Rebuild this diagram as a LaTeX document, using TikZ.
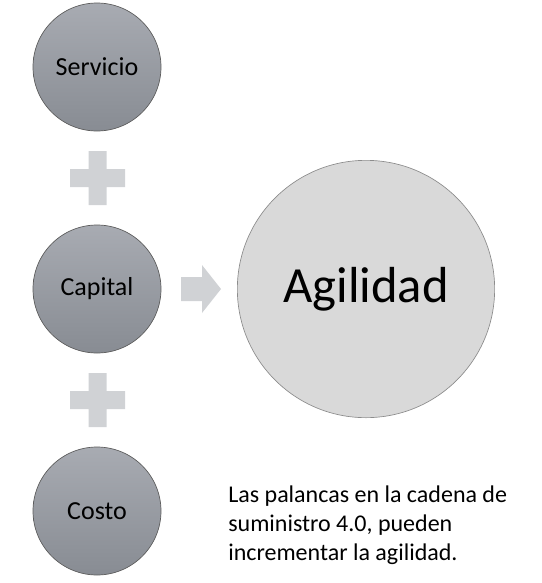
\documentclass[tikz,border=0pt]{standalone}
\usepackage{fontspec}
\setmainfont{Carlito}
\definecolor{circtop}{RGB}{168,171,178}
\definecolor{circbot}{RGB}{136,140,147}
\definecolor{circline}{RGB}{90,90,90}
\definecolor{bigfill}{RGB}{217,217,217}
\definecolor{bigline}{RGB}{140,140,140}
\definecolor{symfill}{RGB}{208,210,213}
\begin{document}
\begin{tikzpicture}[x=0.75pt,y=-0.75pt,
  lever/.style={circle,minimum size=96pt,inner sep=0pt,draw=circline,line width=0.5pt,
    top color=circtop,bottom color=circbot,font=\fontsize{19.5}{23}\selectfont},
  bigcirc/.style={circle,minimum size=193pt,inner sep=0pt,draw=bigline,line width=0.5pt,
    fill=bigfill,font=\fontsize{38}{44}\selectfont},
  symb/.style={fill=symfill,draw=none},
  note/.style={anchor=north west,align=left,inner sep=0pt,font=\fontsize{18}{21.75}\selectfont}]
\useasboundingbox (0,0) rectangle (542,583);
\node[lever] (serv) at (97,67) {Servicio};
\node[lever] (cap) at (97,289) {Capital};
\node[lever] (cost) at (97,511) {Costo};
\node[bigcirc] (agil) at (366,289) {Agilidad};
% plus signs
\fill[symb] (88.5,151) -- (106.5,151) -- (106.5,169) -- (125,169) -- (125,187) -- (106.5,187)
  -- (106.5,205) -- (88.5,205) -- (88.5,187) -- (70,187) -- (70,169) -- (88.5,169) -- cycle;
\fill[symb] (88.5,373) -- (106.5,373) -- (106.5,391) -- (125,391) -- (125,409) -- (106.5,409)
  -- (106.5,427) -- (88.5,427) -- (88.5,409) -- (70,409) -- (70,391) -- (88.5,391) -- cycle;
% arrow
\fill[symb] (181,277) -- (202,277) -- (202,265) -- (221,289) -- (202,313) -- (202,301) -- (181,301) -- cycle;
\node[note] (txt) at (228,486) {Las palancas en la cadena de\\suministro 4.0, pueden\\incrementar la agilidad.};
\end{tikzpicture}
\end{document}
